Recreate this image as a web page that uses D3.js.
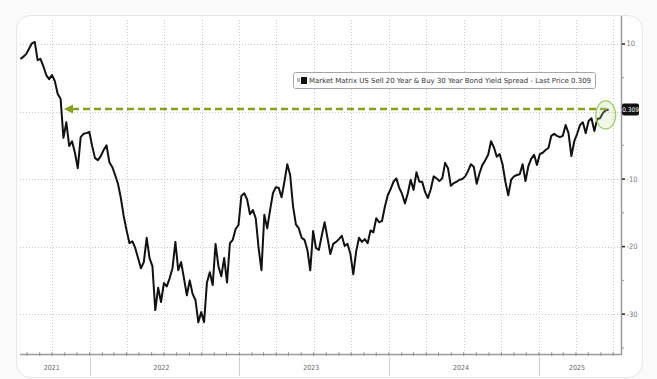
<!DOCTYPE html>
<html>
<head>
<meta charset="utf-8">
<script src="https://cdn.jsdelivr.net/npm/d3@7"></script>
<style>
  html, body { margin: 0; padding: 0; background: #fafafa; }
  svg { display: block; }
  text { font-family: "Liberation Sans Narrow", "DejaVu Sans Condensed", "Liberation Sans", sans-serif; }
</style>
</head>
<body>
<svg id="chart" width="657" height="379"></svg>
<script>
"use strict";
/* global d3 */

// weekly closes (bp), first one on START_DATE
var START_DATE = "2021-07-16";
var STEP_DAYS = 7;
var spread = [
  7.8, 8.1, 8.5, 9.3, 10.1, 10.3, 7.6, 7.8, 6.7, 5.4,
  4.8, 5.4, 4.5, 2.6, 1.9, -3.9, -1.6, -5.1, -4.4, -6.1,
  -8.4, -3.8, -3.3, -3.2, -3.0, -5.1, -6.9, -7.2, -6.6, -5.7,
  -5.0, -7.5, -8.2, -9.4, -10.7, -12.8, -15.5, -17.6, -19.5, -19.2,
  -20.2, -21.7, -23.2, -22.3, -18.7, -21.7, -22.9, -29.4, -26.1, -28.2,
  -25.4, -25.9, -24.7, -23.2, -19.3, -23.5, -22.3, -24.7, -27.2, -25.0,
  -27.0, -27.9, -31.2, -29.7, -31.2, -25.3, -23.8, -25.7, -19.6, -22.9,
  -24.4, -21.7, -25.3, -19.5, -19.0, -17.4, -16.8, -12.5, -12.1, -13.0,
  -15.2, -14.6, -15.8, -20.2, -23.5, -15.3, -17.3, -14.6, -12.1, -11.2,
  -11.3, -12.7, -10.4, -7.8, -9.4, -14.0, -16.7, -17.3, -18.7, -19.0,
  -20.5, -23.5, -17.7, -20.2, -20.5, -18.4, -16.4, -18.7, -21.1, -19.6,
  -19.3, -18.9, -18.4, -19.9, -19.6, -21.1, -24.1, -20.7, -18.7, -19.3,
  -18.9, -19.5, -17.6, -17.9, -15.8, -16.4, -16.2, -14.1, -12.4, -11.5,
  -10.4, -9.9, -11.3, -12.2, -13.6, -12.1, -10.1, -11.6, -9.0, -10.4,
  -10.4, -11.9, -12.8, -11.5, -9.6, -9.9, -10.3, -9.9, -7.6, -8.4,
  -11.0, -10.6, -10.4, -10.1, -10.0, -9.6, -8.8, -7.8, -8.2, -10.7,
  -9.1, -7.9, -7.2, -6.4, -4.4, -5.3, -6.7, -6.3, -7.8, -10.4,
  -12.4, -10.1, -9.6, -9.4, -9.3, -7.8, -10.3, -8.1, -7.0, -6.4,
  -7.9, -6.3, -6.1, -5.7, -5.4, -3.6, -3.3, -3.6, -3.8, -3.6,
  -2.0, -3.2, -6.6, -4.4, -3.3, -2.0, -1.6, -3.2, -1.4, -1.0,
  -2.9, -1.1, -1.0, -0.2, 0.2, 0.309
];

var yTicks = [10, 0, -10, -20, -30];
var yMinorTicks = [5, -5, -15, -25, -35];
var yearLabels = ["2021", "2022", "2023", "2024", "2025"];
var LAST_PRICE = 0.309;
var legendText =
  "Market Matrix US Sell 20 Year & Buy 30 Year Bond Yield Spread - Last Price 0.309";

var svg = d3.select("#chart");
var pLeft = 20, pRight = 621, pTop = 20, pBottom = 354;

var parse = d3.timeParse("%Y-%m-%d");
var t0 = parse(START_DATE);
var data = spread.map((v, i) => ({
  date: d3.timeDay.offset(t0, i * STEP_DAYS),
  value: v,
}));

var x = d3
  .scaleTime()
  .domain([parse("2021-07-15"), parse("2025-07-20")])
  .range([pLeft, pRight]);
var y = d3.scaleLinear().domain([-35.9, 13.55]).range([pBottom, pTop]);

// card
svg
  .append("rect")
  .attr("x", 16.5)
  .attr("y", 15.5)
  .attr("width", 626)
  .attr("height", 362)
  .attr("rx", 14)
  .attr("fill", "#fff")
  .attr("stroke", "#e6e6e6");

// grid
var grid = svg.append("g").attr("stroke", "#c9c9c9").attr("stroke-dasharray", "1,2");
grid
  .selectAll(".vgrid")
  .data(d3.timeMonth.every(3).range(x.domain()[0], x.domain()[1]))
  .enter()
  .append("line")
  .attr("x1", (d) => Math.round(x(d)) + 0.5)
  .attr("x2", (d) => Math.round(x(d)) + 0.5)
  .attr("y1", pTop)
  .attr("y2", pBottom);
grid
  .selectAll(".hgrid")
  .data(yTicks)
  .enter()
  .append("line")
  .attr("x1", pLeft)
  .attr("x2", pRight)
  .attr("y1", (d) => Math.round(y(d)) + 0.5)
  .attr("y2", (d) => Math.round(y(d)) + 0.5);

// right axis
var ax = svg.append("g");
ax.append("line")
  .attr("x1", pRight + 0.5)
  .attr("x2", pRight + 0.5)
  .attr("y1", pTop - 4)
  .attr("y2", pBottom)
  .attr("stroke", "#9a9a9a")
  .attr("stroke-width", 1.5);
ax.selectAll(".maj")
  .data(yTicks)
  .enter()
  .append("line")
  .attr("x1", pRight + 1)
  .attr("x2", pRight + 4)
  .attr("y1", (d) => y(d))
  .attr("y2", (d) => y(d))
  .attr("stroke", "#222")
  .attr("stroke-width", 1.5);
ax.selectAll(".min")
  .data(yMinorTicks)
  .enter()
  .append("line")
  .attr("x1", pRight + 1)
  .attr("x2", pRight + 3)
  .attr("y1", (d) => y(d))
  .attr("y2", (d) => y(d))
  .attr("stroke", "#999");
ax.selectAll(".lab")
  .data(yTicks.filter((d) => d !== 0))
  .enter()
  .append("text")
  .attr("x", pRight + 5.5)
  .attr("y", (d) => y(d) + 2.5)
  .attr("font-size", 7.5)
  .attr("fill", "#777")
  .text((d) => (d < 0 ? "-" + Math.abs(d) : d));

// bottom axis
var bx = svg.append("g");
bx.append("line")
  .attr("x1", pLeft)
  .attr("x2", pRight + 1)
  .attr("y1", pBottom + 0.5)
  .attr("y2", pBottom + 0.5)
  .attr("stroke", "#9a9a9a")
  .attr("stroke-width", 1.5);
bx.selectAll(".mt")
  .data(d3.timeMonth.range(x.domain()[0], x.domain()[1]))
  .enter()
  .append("line")
  .attr("x1", (d) => x(d))
  .attr("x2", (d) => x(d))
  .attr("y1", pBottom - 2)
  .attr("y2", pBottom + 2)
  .attr("stroke", "#888")
  .attr("stroke-width", 0.8);

var years = yearLabels.map((yr) => {
  var a = Math.max(x(parse(yr + "-01-01")), pLeft);
  var b = Math.min(x(parse(+yr + 1 + "-01-01")), pRight);
  return { label: yr, a: a, b: b };
});
bx.selectAll(".sep")
  .data(years.slice(1))
  .enter()
  .append("line")
  .attr("x1", (d) => Math.round(d.a) + 0.5)
  .attr("x2", (d) => Math.round(d.a) + 0.5)
  .attr("y1", pBottom + 3)
  .attr("y2", 376)
  .attr("stroke", "#cfcfcf");
bx.selectAll(".yr")
  .data(years)
  .enter()
  .append("text")
  .attr("x", (d) => (d.a + d.b) / 2 - 3)
  .attr("y", 370)
  .attr("text-anchor", "middle")
  .attr("font-size", 7)
  .attr("fill", "#666")
  .text((d) => d.label);

// series
var line = d3
  .line()
  .x((d) => x(d.date))
  .y((d) => y(d.value));
svg
  .append("path")
  .datum(data)
  .attr("fill", "none")
  .attr("stroke", "#111")
  .attr("stroke-width", 2)
  .attr("stroke-linejoin", "round")
  .attr("d", line);

// annotation: arrow back to the same level + ring on the last print
var last = data[data.length - 1];
var ay = y(LAST_PRICE) - 0.5;
var green = "#86a020";
svg
  .append("line")
  .attr("x1", 72)
  .attr("x2", x(last.date) - 2)
  .attr("y1", ay)
  .attr("y2", ay)
  .attr("stroke", green)
  .attr("stroke-width", 2.6)
  .attr("stroke-dasharray", "7,4");
svg
  .append("path")
  .attr("d", `M64,${ay} L73,${ay - 4.5} L73,${ay + 4.5} Z`)
  .attr("fill", green);
svg
  .append("ellipse")
  .attr("cx", x(last.date) - 3)
  .attr("cy", ay + 6)
  .attr("rx", 10)
  .attr("ry", 14)
  .attr("fill", "rgba(190,225,160,0.25)")
  .attr("stroke", "#9ccc6a")
  .attr("stroke-width", 1.2);

// last price tag
svg
  .append("rect")
  .attr("x", pRight + 1)
  .attr("y", y(LAST_PRICE) - 6)
  .attr("width", 17)
  .attr("height", 12)
  .attr("rx", 2)
  .attr("fill", "#111");
svg
  .append("text")
  .attr("x", pRight + 9.5)
  .attr("y", y(LAST_PRICE) + 2.5)
  .attr("text-anchor", "middle")
  .attr("font-size", 6.5)
  .attr("fill", "#fff")
  .text(LAST_PRICE);

// legend
var lg = svg.append("g").attr("transform", "translate(293,72)");
lg.append("rect")
  .attr("x", 0.5)
  .attr("y", 0.5)
  .attr("width", 302)
  .attr("height", 16)
  .attr("rx", 2)
  .attr("fill", "#fff")
  .attr("stroke", "#a5a5a5");
lg.append("rect").attr("x", 4).attr("y", 6).attr("width", 3).attr("height", 4).attr("fill", "#bbb");
lg.append("rect").attr("x", 8).attr("y", 5).attr("width", 6).attr("height", 7).attr("fill", "#111");
lg.append("text")
  .attr("x", 16)
  .attr("y", 11)
  .attr("font-size", 7)
  .attr("fill", "#333")
  .attr("textLength", 282)
  .attr("lengthAdjust", "spacingAndGlyphs")
  .text(legendText);
</script>
</body>
</html>
